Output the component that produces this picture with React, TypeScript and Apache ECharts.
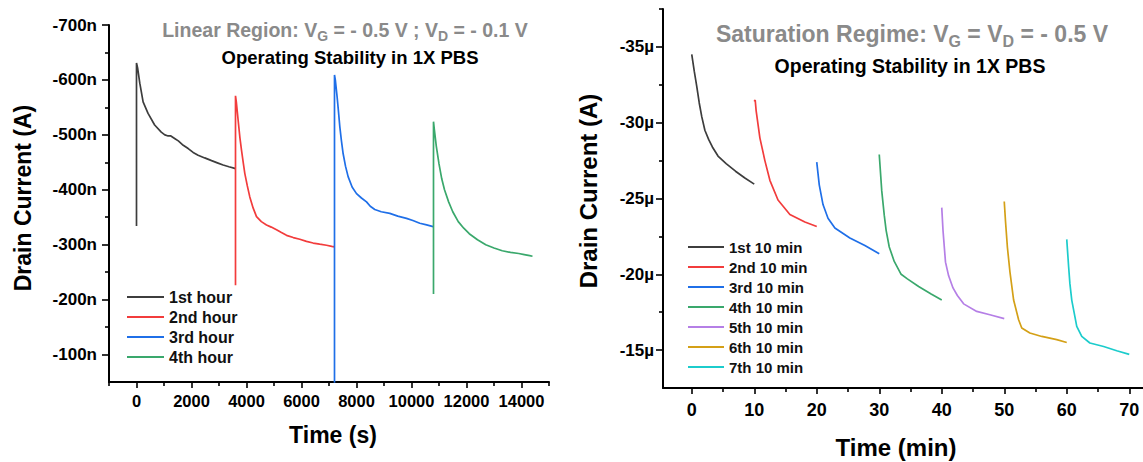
import React, { useEffect, useRef } from "react";
import * as echarts from "echarts";

// ---------- Left panel: Linear region, time in s, current in nA ----------
const hourNames = ["1st hour", "2nd hour", "3rd hour", "4th hour"];
const hourColors = ["#3d3d3d", "#f23c3c", "#1f6fe8", "#3aa86c"];

const hour1: [number, number][] = [
  [0, -334], [0, -631], [40, -622], [120, -594], [240, -560], [420, -539], [660, -518],
  [900, -505], [1030, -500], [1150, -498], [1250, -498], [1400, -493], [1520, -489],
  [1700, -481], [1880, -475], [2060, -468], [2240, -463], [2480, -458], [2730, -453],
  [2940, -449], [3150, -445], [3360, -442], [3575, -439], [3600, -438],
];
const hour2: [number, number][] = [
  [3600, -226], [3600, -571], [3630, -560], [3695, -527], [3760, -495], [3818, -472],
  [3880, -450], [3938, -430], [4030, -407], [4120, -387], [4240, -367], [4364, -351],
  [4540, -342], [4727, -336], [4900, -332], [5091, -327], [5270, -322], [5455, -317],
  [5700, -313], [5938, -310], [6180, -306], [6422, -303], [6660, -301], [6909, -299],
  [7100, -297], [7200, -296],
];
const hour3: [number, number][] = [
  [7200, -20], [7200, -609], [7230, -600], [7295, -569], [7340, -545], [7393, -515],
  [7450, -490], [7513, -466], [7600, -443], [7695, -424], [7840, -405], [8000, -393],
  [8180, -385], [8364, -378], [8500, -370], [8665, -364], [8900, -360], [9211, -357],
  [9500, -352], [9818, -348], [10050, -344], [10302, -339], [10550, -336], [10785, -333],
  [10800, -332],
];
const hour4: [number, number][] = [
  [10800, -210], [10800, -524], [10830, -510], [10900, -480], [11000, -447], [11100, -420],
  [11200, -400], [11350, -378], [11500, -360], [11700, -342], [11900, -330], [12100, -320],
  [12400, -309], [12700, -300], [13000, -294], [13300, -289], [13600, -286], [13900, -284],
  [14100, -282], [14300, -280], [14400, -279],
];
const hourData = [hour1, hour2, hour3, hour4];

const leftXTicks = [0, 2000, 4000, 6000, 8000, 10000, 12000, 14000];
const leftXMinor = [-1000, 1000, 3000, 5000, 7000, 9000, 11000, 13000, 15000];
const leftYTicks = [-700, -600, -500, -400, -300, -200, -100];
const leftYMinor = [-650, -550, -450, -350, -250, -150];

// ---------- Right panel: Saturation regime, time in min, current in µA ----------
const minNames = [
  "1st 10 min", "2nd 10 min", "3rd 10 min", "4th 10 min",
  "5th 10 min", "6th 10 min", "7th 10 min",
];
const minColors = ["#3d3d3d", "#f23c3c", "#1f6fe8", "#3aa86c", "#b57fe6", "#d4a017", "#1ccccc"];

const min1: [number, number][] = [
  [0, -34.5], [0.4, -33.4], [0.8, -32.4], [1.2, -31.3], [1.6, -30.4], [2.1, -29.5],
  [2.7, -28.9], [3.3, -28.4], [4.2, -27.8], [5.5, -27.3], [7, -26.8], [8.5, -26.35], [10, -25.95],
];
const min2: [number, number][] = [
  [10, -31.4], [10.15, -31.5], [10.3, -30.8], [10.9, -29.0], [11.7, -27.5], [12.5, -26.2],
  [13.8, -24.9], [15.7, -23.95], [18.1, -23.45], [20, -23.15],
];
const min3: [number, number][] = [
  [20, -27.4], [20.4, -25.9], [21, -24.6], [21.8, -23.7], [22.9, -23.05], [25.3, -22.4],
  [27.7, -21.9], [30, -21.35],
];
const min4: [number, number][] = [
  [30, -27.9], [30.4, -25.5], [30.8, -23.9], [31.1, -22.9], [31.6, -21.8], [32.4, -20.85],
  [33.5, -20.0], [34.5, -19.7], [36.3, -19.2], [38.3, -18.7], [40, -18.3],
];
const min5: [number, number][] = [
  [40, -24.4], [40.2, -22.9], [40.6, -20.8], [41.1, -19.9], [41.8, -19.1], [42.5, -18.6],
  [43.5, -18.05], [45.6, -17.55], [47.7, -17.33], [50, -17.08],
];
const min6: [number, number][] = [
  [50, -24.8], [50.2, -23.5], [50.5, -21.8], [50.9, -20.2], [51.5, -18.3], [52.3, -17.0],
  [52.8, -16.46], [54.1, -16.13], [56, -15.9], [58.4, -15.69], [60, -15.5],
];
const min7: [number, number][] = [
  [60, -22.3], [60.3, -20.5], [60.5, -19.4], [60.8, -18.3], [61.6, -16.56], [62.4, -15.9],
  [63.7, -15.47], [65.9, -15.24], [68, -14.96], [70, -14.72],
];
const minData = [min1, min2, min3, min4, min5, min6, min7];

const rightXTicks = [0, 10, 20, 30, 40, 50, 60, 70];
const rightXMinor = [5, 15, 25, 35, 45, 55, 65];
const rightYTicks = [-35, -30, -25, -20, -15];
const rightYMinor = [-37.5, -32.5, -27.5, -22.5, -17.5];

const FONT = "'Liberation Sans', Arial, sans-serif";

function mainAxis(gridIndex: number, min: number, max: number, ticks: number[], opts: any) {
  return {
    type: "value",
    gridIndex,
    min,
    max,
    inverse: !!opts.inverse,
    position: opts.position,
    splitLine: { show: false },
    axisLine: { show: true, onZero: false, lineStyle: { color: "#000", width: 2 } },
    axisTick: {
      show: true,
      inside: false,
      length: opts.tickLen,
      customValues: ticks,
      lineStyle: { color: "#000", width: 1.6 },
    },
    axisLabel: {
      show: true,
      customValues: ticks,
      margin: opts.margin,
      fontSize: opts.fontSize,
      fontWeight: "bold",
      fontFamily: FONT,
      color: "#000",
      formatter: opts.formatter || ((v: number) => String(v)),
    },
  };
}

function minorAxis(gridIndex: number, min: number, max: number, ticks: number[], opts: any) {
  return {
    type: "value",
    gridIndex,
    min,
    max,
    inverse: !!opts.inverse,
    position: opts.position,
    splitLine: { show: false },
    axisLine: { show: false, onZero: false },
    axisTick: {
      show: true,
      inside: false,
      length: 4,
      customValues: ticks,
      lineStyle: { color: "#000", width: 1.6 },
    },
    axisLabel: { show: false },
  };
}

export default function App() {
  const ref = useRef<HTMLDivElement>(null);
  useEffect(() => {
    document.body.style.margin = "0";
    if (!ref.current) return;
    const chart = echarts.init(ref.current, null, { renderer: "svg" });

    const series: any[] = [];
    hourData.forEach((d, i) => {
      series.push({
        type: "line",
        name: hourNames[i],
        data: d,
        xAxisIndex: 0,
        yAxisIndex: 0,
        showSymbol: false,
        symbol: "none",
        color: hourColors[i],
        lineStyle: { width: 1.7, color: hourColors[i] },
        clip: true,
      });
    });
    minData.forEach((d, i) => {
      series.push({
        type: "line",
        name: minNames[i],
        data: d,
        xAxisIndex: 2,
        yAxisIndex: 2,
        showSymbol: false,
        symbol: "none",
        color: minColors[i],
        lineStyle: { width: 1.7, color: minColors[i] },
        clip: true,
      });
    });

    const option: any = {
      animation: false,
      textStyle: { fontFamily: FONT },
      grid: [
        { left: 109, top: 25, width: 440, height: 357 },
        { left: 663, top: 9, width: 480, height: 379 },
      ],
      xAxis: [
        mainAxis(0, -1000, 15000, leftXTicks, { position: "bottom", tickLen: 6, margin: 10, fontSize: 16.5 }),
        minorAxis(0, -1000, 15000, leftXMinor, { position: "bottom" }),
        mainAxis(1, -4.6, 72.2, rightXTicks, { position: "bottom", tickLen: 6, margin: 13, fontSize: 18 }),
        minorAxis(1, -4.6, 72.2, rightXMinor, { position: "bottom" }),
      ],
      yAxis: [
        mainAxis(0, -700, -50, leftYTicks, {
          position: "left", inverse: true, tickLen: 7, margin: 12, fontSize: 17,
          formatter: (v: number) => `${v}n`,
        }),
        minorAxis(0, -700, -50, leftYMinor, { position: "left", inverse: true }),
        mainAxis(1, -37.5, -12.5, rightYTicks, {
          position: "left", inverse: true, tickLen: 7, margin: 9, fontSize: 17,
          formatter: (v: number) => `${v}µ`,
        }),
        minorAxis(1, -37.5, -12.5, rightYMinor, { position: "left", inverse: true }),
      ],
      legend: [
        {
          data: hourNames,
          orient: "vertical",
          left: 127,
          top: 287,
          padding: 0,
          itemGap: 0,
          itemWidth: 37,
          itemHeight: 2,
          icon: "rect",
          selectedMode: false,
          textStyle: { fontSize: 16, fontWeight: "bold", color: "#111", lineHeight: 20, fontFamily: FONT },
        },
        {
          data: minNames,
          orient: "vertical",
          left: 688,
          top: 237,
          padding: 0,
          itemGap: 0,
          itemWidth: 36,
          itemHeight: 2,
          icon: "rect",
          selectedMode: false,
          textStyle: { fontSize: 15, fontWeight: "bold", color: "#111", lineHeight: 20, fontFamily: FONT },
        },
      ],
      graphic: [
        {
          type: "text",
          x: 345,
          y: 30,
          style: {
            text: "{a|Linear Region: V}{s|G}{a| = - 0.5 V ; V}{s|D}{a| = - 0.1 V}",
            align: "center",
            verticalAlign: "middle",
            rich: {
              a: { fontSize: 19.5, fontWeight: "bold", fontFamily: FONT, fill: "#8a8a8a" },
              s: { fontSize: 14, fontWeight: "bold", fontFamily: FONT, fill: "#8a8a8a", padding: [11, 0, 0, 0] },
            },
          },
        },
        {
          type: "text",
          x: 350,
          y: 57,
          style: {
            text: "Operating Stability in 1X PBS",
            align: "center",
            verticalAlign: "middle",
            fontSize: 18.5,
            fontWeight: "bold",
            fontFamily: FONT,
            fill: "#000",
          },
        },
        {
          type: "text",
          x: 912,
          y: 34,
          style: {
            text: "{a|Saturation Regime: V}{s|G}{a| = V}{s|D}{a| = - 0.5 V}",
            align: "center",
            verticalAlign: "middle",
            rich: {
              a: { fontSize: 23, fontWeight: "bold", fontFamily: FONT, fill: "#8a8a8a" },
              s: { fontSize: 16, fontWeight: "bold", fontFamily: FONT, fill: "#8a8a8a", padding: [14, 0, 0, 0] },
            },
          },
        },
        {
          type: "text",
          x: 910,
          y: 65.5,
          style: {
            text: "Operating Stability in 1X PBS",
            align: "center",
            verticalAlign: "middle",
            fontSize: 19.5,
            fontWeight: "bold",
            fontFamily: FONT,
            fill: "#000",
          },
        },
        {
          type: "text",
          x: 23,
          y: 198,
          rotation: Math.PI / 2,
          style: {
            text: "Drain Current (A)",
            align: "center",
            verticalAlign: "middle",
            fontSize: 23,
            fontWeight: "bold",
            fontFamily: FONT,
            fill: "#000",
          },
        },
        {
          type: "text",
          x: 588,
          y: 191,
          rotation: Math.PI / 2,
          style: {
            text: "Drain Current (A)",
            align: "center",
            verticalAlign: "middle",
            fontSize: 24,
            fontWeight: "bold",
            fontFamily: FONT,
            fill: "#000",
          },
        },
        {
          type: "text",
          x: 333,
          y: 435,
          style: {
            text: "Time (s)",
            align: "center",
            verticalAlign: "middle",
            fontSize: 23,
            fontWeight: "bold",
            fontFamily: FONT,
            fill: "#000",
          },
        },
        {
          type: "text",
          x: 896,
          y: 447,
          style: {
            text: "Time (min)",
            align: "center",
            verticalAlign: "middle",
            fontSize: 24,
            fontWeight: "bold",
            fontFamily: FONT,
            fill: "#000",
          },
        },
      ],
      series,
    };

    chart.setOption(option);
    return () => chart.dispose();
  }, []);

  return <div ref={ref} style={{ width: 1143, height: 462 }} />;
}
